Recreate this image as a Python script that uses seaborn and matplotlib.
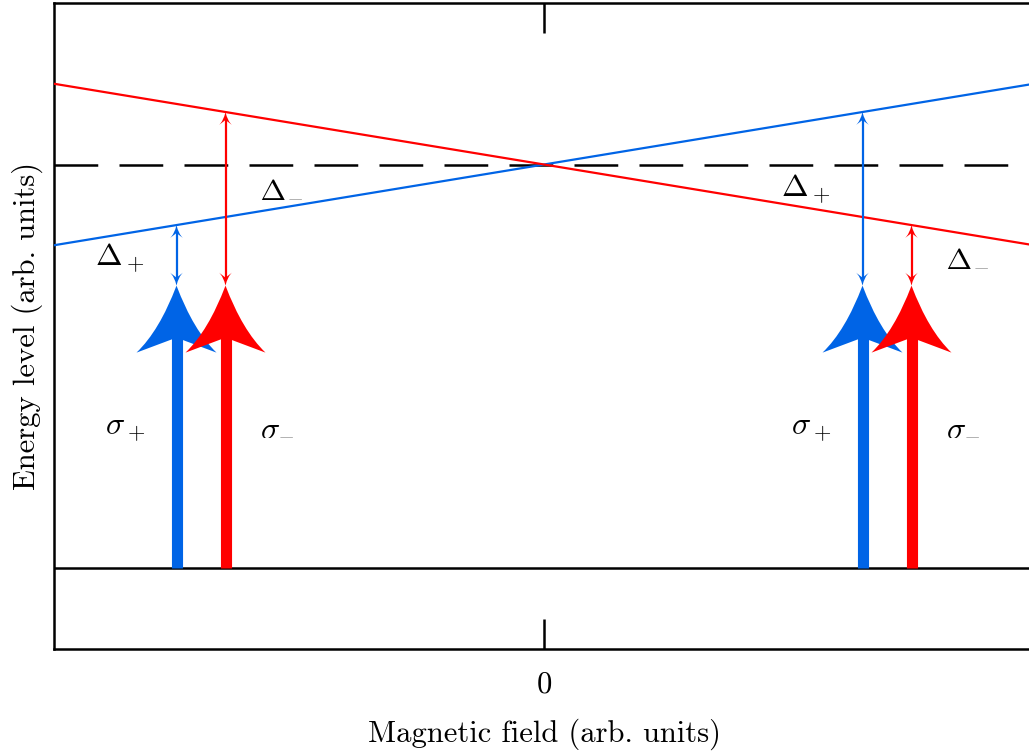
import numpy as np
import pandas as pd
import matplotlib
matplotlib.use("Agg")
import matplotlib.pyplot as plt
from matplotlib.path import Path
from matplotlib.patches import PathPatch
import seaborn as sns

# ---- data -------------------------------------------------------------
field = [-1.0, 1.0]                 # magnetic field range (arb. units)
level_plus = [0.8, 1.2]             # Zeeman-shifted level reached by sigma+
level_minus = [1.2, 0.8]            # Zeeman-shifted level reached by sigma-
ground_level = 0.0
unshifted_level = 1.0
photon_energy = 0.7                 # laser photon energy
probe_fields_plus = [-0.75, 0.65]   # field values of the sigma+ photons
probe_fields_minus = [-0.65, 0.75]  # field values of the sigma- photons

BLUE = "#0064E6"
RED = "#FF0000"

sns.set_style("white")
plt.rcParams["font.family"] = ["cmr10", "DejaVu Serif"]
plt.rcParams["mathtext.fontset"] = "cm"
plt.rcParams["axes.unicode_minus"] = False
plt.rcParams["axes.formatter.use_mathtext"] = True
plt.rcParams["text.color"] = "black"
plt.rcParams["axes.labelcolor"] = "black"
plt.rcParams["xtick.color"] = "black"

W, H = 1029, 752
fig = plt.figure(figsize=(W / 100, H / 100), dpi=100)
ax_w_px, ax_h_px = 980, 646
ax = fig.add_axes([54 / W, (H - 649) / H, ax_w_px / W, ax_h_px / H])
ax.set_xlim(-1, 1)
ax.set_ylim(-0.2, 1.4)

px_x = 2.0 / ax_w_px    # data units per pixel, horizontally
py = 1.6 / ax_h_px      # data units per pixel, vertically


def level(branch, x):
    return float(np.interp(x, field, branch))


def concave_head(x, y, d, length, half, notch, cx, cy, color, z):
    """Arrow head with concave flanks; d=+1 points up, d=-1 points down.
    Sizes are given in pixels."""
    L, hw, n = length * py, half * px_x, notch * py
    verts = [
        (x, y),
        (x - cx * px_x, y - d * cy * py), (x - hw, y - d * L),
        (x, y - d * n),
        (x + hw, y - d * L),
        (x + cx * px_x, y - d * cy * py), (x, y),
        (x, y),
    ]
    codes = [Path.MOVETO, Path.CURVE3, Path.CURVE3, Path.LINETO,
             Path.LINETO, Path.CURVE3, Path.CURVE3, Path.CLOSEPOLY]
    ax.add_patch(PathPatch(Path(verts, codes), facecolor=color,
                           edgecolor="none", zorder=z))


# ---- energy levels ----------------------------------------------------
df = pd.DataFrame({
    "field": field + field,
    "energy": level_plus + level_minus,
    "branch": ["plus"] * 2 + ["minus"] * 2,
})
sns.lineplot(data=df, x="field", y="energy", hue="branch",
             palette={"plus": BLUE, "minus": RED}, legend=False,
             sort=False, estimator=None, lw=1.6, ax=ax, zorder=3)
ax.axhline(unshifted_level, color="black", lw=1.8,
           dashes=(17.5, 8.5), zorder=2)
ax.axhline(ground_level, color="black", lw=1.8, zorder=4)


# ---- photons and detunings --------------------------------------------
def photon(x, color, z):
    ax.plot([x, x], [ground_level, photon_energy - 50 * py],
            color=color, lw=8, solid_capstyle="butt", zorder=z)
    concave_head(x, photon_energy, +1, 67, 40, 52, 17, 45, color, z)


def detuning(x, branch, color, z):
    top = level(branch, x)
    bottom = photon_energy
    ax.plot([x, x], [bottom + 8 * py, top - 8 * py], color=color,
            lw=1.6, solid_capstyle="butt", zorder=z)
    concave_head(x, top, +1, 13, 6.5, 8, 2, 9, color, z)
    concave_head(x, bottom, -1, 13, 6.5, 8, 2, 9, color, z)


for xp, xm in zip(probe_fields_plus, probe_fields_minus):
    photon(xp, BLUE, 5)
    photon(xm, RED, 6)
    detuning(xp, level_plus, BLUE, 5)
    detuning(xm, level_minus, RED, 6)

# labels beside the arrows (text baselines in data units)
fs_math = 23
sigma_base = 0.331
delta_low, delta_high = 0.749, 0.921
for xp, xm in zip(probe_fields_plus, probe_fields_minus):
    outer_p = -1 if xp < xm else 1   # side of the sigma+ label
    ax.text(xp + outer_p * 0.105, sigma_base, r"$\sigma_+$",
            fontsize=fs_math, ha="center", va="baseline")
    ax.text(xm - outer_p * 0.105, sigma_base, r"$\sigma_{\minus}$",
            fontsize=fs_math, ha="center", va="baseline")
    yp = delta_low if xp < 0 else delta_high
    ym = delta_high if xm < 0 else delta_low
    ax.text(xp + outer_p * 0.115, yp, r"$\Delta_+$", fontsize=fs_math,
            ha="center", va="baseline")
    ax.text(xm - outer_p * 0.114, ym, r"$\Delta_{\minus}$",
            fontsize=fs_math, ha="center", va="baseline")

# ---- axes styling -----------------------------------------------------
for s in ax.spines.values():
    s.set_linewidth(1.8)
    s.set_color("black")
ax.set_xticks([0], labels=["0"])
ax.set_yticks([])
ax.tick_params(axis="x", direction="in", length=21.5, width=1.8,
               top=True, bottom=True, labelsize=22, pad=16, color="black")
ax.set_xlabel("Magnetic field (arb. units)", fontsize=22, labelpad=14)
ax.set_ylabel("Energy level (arb. units)", fontsize=22, labelpad=8)

fig.savefig("out.png", dpi=100)
